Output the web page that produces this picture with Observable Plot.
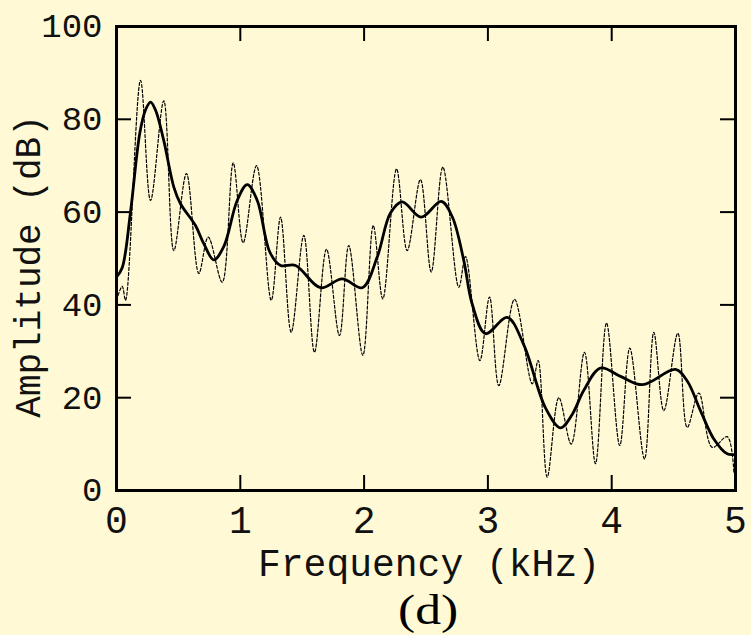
<!DOCTYPE html>
<html>
<head>
<meta charset="utf-8">
<script src="https://cdn.jsdelivr.net/npm/d3@7"></script>
<script src="https://cdn.jsdelivr.net/npm/@observablehq/plot@0.6"></script>
<style>
  html, body { margin: 0; padding: 0; background: #fffad5; }
  #wrap { width: 751px; height: 635px; background: #fffad5; overflow: hidden; }
  #cap { height: 50px; width: 751px; font-family: "Liberation Serif", serif; font-size: 43px; line-height: 50px; text-align: center; padding-left: 105px; box-sizing: border-box; color: #000; }
  #cap span { display: inline-block; transform: scaleX(1.2); }
</style>
</head>
<body>
<div id="wrap"></div>
<script>
// Frequency (kHz) / amplitude (dB): harmonic spectrum (dotted)
const harmFreq = [0, 0.046, 0.073, 0.194, 0.275, 0.382, 0.463, 0.565, 0.665, 0.741, 0.854, 0.943, 1.023, 1.131, 1.25, 1.325, 1.411, 1.513, 1.599, 1.696, 1.801, 1.876, 1.990, 2.074, 2.151, 2.262, 2.348, 2.455, 2.542, 2.636, 2.765, 2.819, 2.935, 3.013, 3.088, 3.215, 3.358, 3.406, 3.479, 3.573, 3.673, 3.780, 3.869, 3.958, 4.065, 4.146, 4.265, 4.340, 4.421, 4.534, 4.610, 4.704, 4.812, 4.933, 4.987];
const harmAmp  = [41, 44, 41, 88.4, 62.5, 84, 51.7, 68.3, 46.8, 54.6, 44.9, 70.6, 53.4, 70, 41, 58.9, 34.1, 55, 29.8, 52, 33.4, 52.8, 29.1, 57.1, 41.3, 69.3, 51.7, 67, 47.1, 69.7, 43.8, 50.4, 28, 41.7, 22.6, 41.2, 23, 28, 2.9, 20, 10, 29.8, 5.8, 36.1, 9.7, 30.7, 6.8, 34.1, 17.2, 33.9, 13.6, 21, 9.3, 11.6, 3.9];

// Smoothed spectral envelope (solid)
const envFreq = [0, 0.046, 0.113, 0.188, 0.234, 0.275, 0.315, 0.382, 0.463, 0.517, 0.638, 0.705, 0.786, 0.867, 0.975, 1.056, 1.137, 1.238, 1.325, 1.446, 1.648, 1.823, 1.985, 2.106, 2.213, 2.308, 2.461, 2.623, 2.712, 2.805, 2.873, 2.981, 3.156, 3.290, 3.465, 3.586, 3.681, 3.775, 3.910, 4.071, 4.249, 4.515, 4.610, 4.717, 4.825, 4.933, 5.0];
const envAmp  = [46, 48, 60, 77, 82, 83.7, 82, 75.4, 65.4, 61.8, 57.1, 53.2, 49.7, 52.6, 62.5, 65.9, 62.5, 51.4, 48.5, 48.5, 43.7, 45.6, 43.7, 50.3, 59.8, 62.2, 58.9, 62.3, 59, 49.6, 40.2, 33.8, 37.3, 31.4, 17.8, 13.5, 16.4, 21.6, 26.4, 24.6, 22.8, 26.1, 23.6, 17.2, 11.1, 7.9, 7.8];

const xTicks = [0, 1, 2, 3, 4, 5];
const yTicks = [0, 20, 40, 60, 80, 100];
const xTitle = "Frequency (kHz)";
const yTitle = "Amplitude (dB)";
const caption = "(d)";

const harm = harmFreq.map((f, i) => ({f, a: harmAmp[i]}));
const env = envFreq.map((f, i) => ({f, a: envAmp[i]}));

const W = 751, H = 585;
const mL = 116, mR = 16, mT = 26, mB = H - 490;
const pw = W - mL - mR, ph = H - mT - mB;
const tk = 15;
const mono = "Liberation Mono, monospace";

const chart = Plot.plot({
  width: W, height: H,
  marginLeft: mL, marginRight: mR, marginTop: mT, marginBottom: mB,
  style: {background: "#fffad5", fontFamily: mono, color: "#000", overflow: "visible"},
  x: {domain: [0, 5]},
  y: {domain: [0, 100]},
  marks: [
    Plot.line(harm, {x: "f", y: "a", curve: "catmull-rom", stroke: "#000", strokeWidth: 1.2, strokeDasharray: "3,2"}),
    Plot.line(env, {x: "f", y: "a", curve: "catmull-rom", stroke: "#000", strokeWidth: 2.8}),
    Plot.tickY(yTicks, {y: d => d, insetRight: pw - tk, stroke: "#000", strokeWidth: 2}),
    Plot.tickY(yTicks, {y: d => d, insetLeft: pw - tk, stroke: "#000", strokeWidth: 2}),
    Plot.tickX(xTicks, {x: d => d, insetTop: ph - tk, stroke: "#000", strokeWidth: 2}),
    Plot.tickX(xTicks, {x: d => d, insetBottom: ph - tk, stroke: "#000", strokeWidth: 2}),
    Plot.frame({stroke: "#000", strokeWidth: 3}),
    Plot.axisY(yTicks, {tickSize: 0, tickPadding: 14, tickFormat: d3.format("d"), fontSize: 34, fontFamily: mono, fill: "#111", label: null}),
    Plot.axisX(xTicks, {tickSize: 0, tickPadding: 16, tickFormat: d3.format("d"), fontSize: 38, fontFamily: mono, fill: "#111", label: null}),
    Plot.text([xTitle], {text: d => d, frameAnchor: "bottom", lineAnchor: "middle", textAnchor: "middle", dy: 73, dx: 3, fontSize: 38, fontFamily: mono, fill: "#111"}),
    Plot.text([yTitle], {text: d => d, frameAnchor: "left", lineAnchor: "middle", textAnchor: "middle", rotate: -90, dx: -88, dy: 8, fontSize: 36, fontFamily: mono, fill: "#111"})
  ]
});

const wrap = document.getElementById("wrap");
wrap.appendChild(chart);
const cap = document.createElement("div");
cap.id = "cap";
const span = document.createElement("span");
span.textContent = caption;
cap.appendChild(span);
wrap.appendChild(cap);
</script>
</body>
</html>
